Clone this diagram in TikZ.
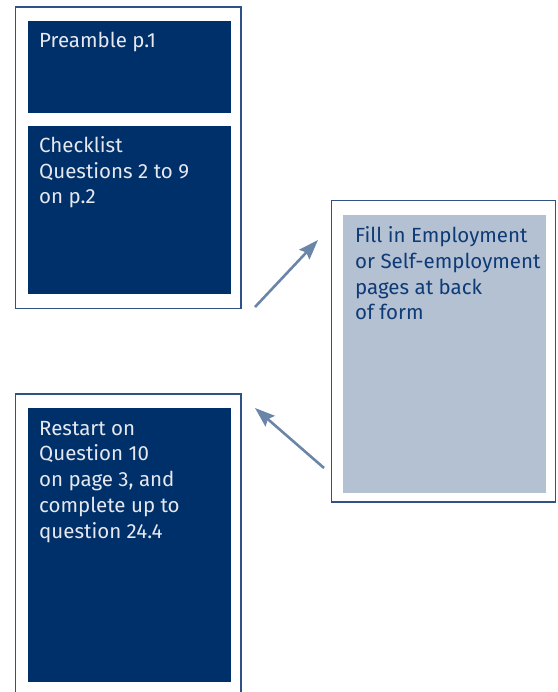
\documentclass[tikz,border=0pt]{standalone}
\usepackage{fontspec}
\setmainfont{Fira Sans}
\usetikzlibrary{calc,arrows.meta}
\definecolor{navy}{HTML}{00306A}
\definecolor{pale}{HTML}{B4C1D3}
\definecolor{edge}{HTML}{2F5286}
\definecolor{arrowc}{HTML}{6A85A8}
\definecolor{lighttxt}{HTML}{E6E8EE}
\definecolor{darktxt}{HTML}{0E3A76}
\begin{document}
\begin{tikzpicture}[x=1pt,y=-1pt,
  frame/.style={draw=edge,line width=1.1pt,fill=white},
  darkbox/.style={fill=navy},
  palebox/.style={fill=pale},
  txt/.style={anchor=base west,inner sep=0pt,align=left,
    font=\fontsize{20.5}{25.8}\selectfont},
  arr/.style={draw=arrowc,line width=2.6pt,
    -{Stealth[length=20pt,width=14pt,inset=3pt]}}]
\useasboundingbox (0,0) rectangle (557,692);
\clip (0,0) rectangle (557,692);
% outer frames
\draw[frame] (15.5,7) rectangle (241,308.3);
\draw[frame] (331.7,200.7) rectangle (555.7,502);
\draw[frame] (15.5,394) rectangle (241,720);
% inner boxes
\node[darkbox,anchor=north west,minimum width=203pt,minimum height=92pt,inner sep=0pt] (pre) at (28,21) {};
\node[darkbox,anchor=north west,minimum width=203pt,minimum height=168pt,inner sep=0pt] (chk) at (28,126) {};
\node[palebox,anchor=north west,minimum width=203pt,minimum height=277.7pt,inner sep=0pt] (fill) at (343,215) {};
\node[darkbox,anchor=north west,minimum width=203pt,minimum height=273.7pt,inner sep=0pt] (rst) at (28,408) {};
% texts (anchor is the baseline of the last line)
\node[txt,text=lighttxt] (tpre) at ($(pre.north west)+(11,26.3)$) {Preamble p.1};
\node[txt,text=lighttxt] (tchk) at ($(chk.north west)+(11,77.9)$) {Checklist\\Questions 2 to 9\\on p.2};
\node[txt,text=darktxt] (tfill) at ($(fill.north west)+(12,104.9)$) {Fill in Employment\\or Self-employment\\pages at back\\of form};
\node[txt,text=lighttxt] (trst) at ($(rst.north west)+(11,130.2)$) {Restart on\\Question 10\\on page 3, and\\complete up to\\question 24.4};
% arrows
\coordinate (a1s) at (255,307);
\coordinate (a1e) at (318,240);
\coordinate (a2s) at (324,468);
\coordinate (a2e) at (255,408);
\draw[arr] (a1s) -- (a1e);
\draw[arr] (a2s) -- (a2e);
\end{tikzpicture}
\end{document}
